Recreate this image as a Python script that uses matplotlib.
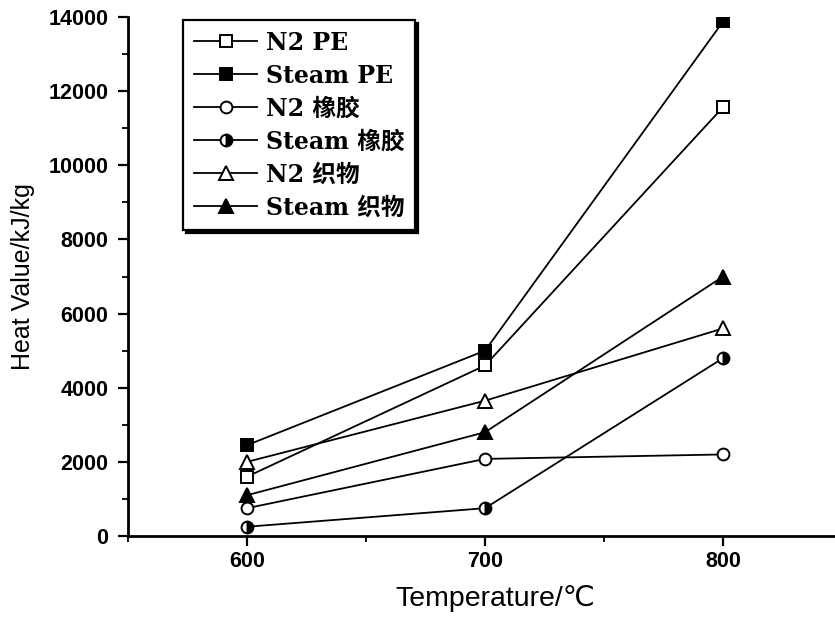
import matplotlib
matplotlib.use("Agg")
import matplotlib.pyplot as plt
from matplotlib.ticker import MultipleLocator
from matplotlib.font_manager import FontProperties

temps = [600, 700, 800]

n2_pe = [1600, 4600, 11570]
steam_pe = [2450, 5000, 13880]
n2_rubber = [750, 2080, 2200]
steam_rubber = [250, 750, 4800]
n2_fabric = [2000, 3650, 5600]
steam_fabric = [1100, 2800, 7000]

labels = ["N2 PE", "Steam PE", "N2 橡胶", "Steam 橡胶", "N2 织物", "Steam 织物"]

W, H = 835, 619
fig = plt.figure(figsize=(W / 100, H / 100), dpi=100)
ax = fig.add_axes([128 / W, (H - 536) / H, (W - 128) / W, (536 - 17) / H])

common = dict(color="black", lw=1.3, ms=8.5, mec="black", mew=1.4)
series = [
    (n2_pe, dict(marker="s", mfc="white")),
    (steam_pe, dict(marker="s", mfc="black")),
    (n2_rubber, dict(marker="o", mfc="white")),
    (steam_rubber, dict(marker="o", mfc="black", fillstyle="right", markerfacecoloralt="white")),
    (n2_fabric, dict(marker="^", mfc="white", ms=10)),
    (steam_fabric, dict(marker="^", mfc="black", ms=10)),
]
for (vals, style), lab in zip(series, labels):
    kw = dict(common)
    kw.update(style)
    ax.plot(temps, vals, label=lab, **kw)

ax.set_xlim(550, 847)
ax.set_ylim(0, 14000)
ax.xaxis.set_major_locator(MultipleLocator(100))
ax.xaxis.set_minor_locator(MultipleLocator(50))
ax.yaxis.set_major_locator(MultipleLocator(2000))
ax.yaxis.set_minor_locator(MultipleLocator(1000))

for side in ("top", "right"):
    ax.spines[side].set_visible(False)
for side in ("left", "bottom"):
    ax.spines[side].set_linewidth(2.0)
ax.tick_params(which="major", direction="out", length=7, width=1.6)
ax.tick_params(which="minor", direction="out", length=4, width=1.3)
ax.tick_params(axis="x", which="major", pad=4)
ax.tick_params(axis="y", which="major", pad=7)

tick_fp = FontProperties(family="Liberation Sans", weight="bold", size=15.5)
ax.set_xticks([600, 700, 800])
ax.set_xticklabels(["600", "700", "800"])
for t in ax.get_xticklabels() + ax.get_yticklabels():
    t.set_fontproperties(tick_fp)

ax.set_xlabel("Temperature/℃", family=["Liberation Sans", "DejaVu Sans"], fontsize=20.5)
ax.xaxis.set_label_coords(0.52, -0.094)
ax.set_ylabel("Heat Value/kJ/kg", family="Liberation Sans", fontsize=18, labelpad=10)

leg = ax.legend(
    loc="upper left",
    bbox_to_anchor=(183 / W, 1 - 20 / H),
    bbox_transform=fig.transFigure,
    prop=dict(family=["DejaVu Serif", "Noto Sans CJK SC"], size=17, weight="bold"),
    frameon=True, fancybox=False, shadow={"color": "black", "alpha": 1},
    edgecolor="black", handlelength=2.7, handletextpad=0.35,
    labelspacing=0.38, borderpad=0.45, borderaxespad=0,
)
leg.get_frame().set_linewidth(1.6)

fig.savefig("out.png", dpi=100)
